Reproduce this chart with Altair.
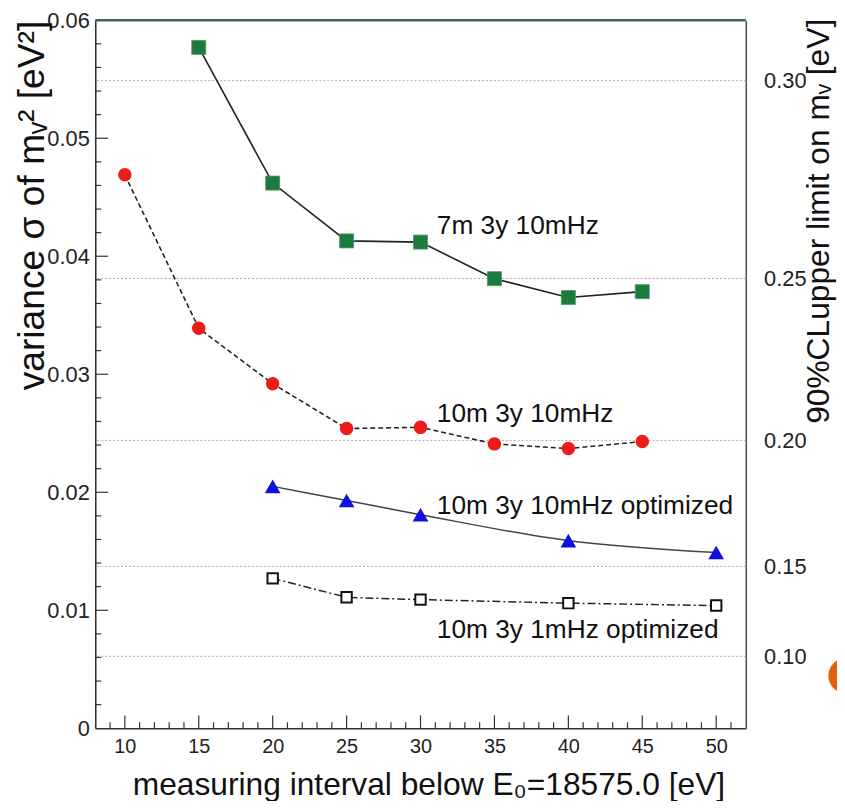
import altair as alt
import pandas as pd

# ---------------- data ----------------
x_green = [15, 20, 25, 30, 35, 40, 45]
y_green = [0.0577, 0.0462, 0.0413, 0.0412, 0.0381, 0.0365, 0.0370]

x_red = [10, 15, 20, 25, 30, 35, 40, 45]
y_red = [0.0469, 0.0339, 0.0292, 0.0254, 0.0255, 0.0241, 0.0237, 0.0243]

x_blue = [20, 25, 30, 40, 50]
y_blue = [0.0205, 0.0193, 0.0181, 0.0159, 0.0149]

x_open = [20, 25, 30, 40, 50]
y_open = [0.0127, 0.0111, 0.0109, 0.0106, 0.0104]

label_text = ["7m 3y 10mHz", "10m 3y 10mHz", "10m 3y 10mHz optimized", "10m 3y 1mHz optimized"]
label_x = [31.1, 31.1, 31.1, 31.1]
label_y = [0.0426, 0.0266, 0.0188, 0.0083]

x_tick_labels = [10, 15, 20, 25, 30, 35, 40, 45, 50]
y_tick_labels = [0, 0.01, 0.02, 0.03, 0.04, 0.05, 0.06]
limit_ticks = [0.10, 0.15, 0.20, 0.25, 0.30]

x_major = [10, 15, 20, 25, 30, 35, 40, 45, 50]
x_minor = [v for v in range(9, 52) if v % 5 != 0]
y_major = [0.01, 0.02, 0.03, 0.04, 0.05]
y_minor = [round(0.002 * i, 3) for i in range(1, 30) if i % 5 != 0]

# ---------------- styling ----------------
W, H = 656, 714
FONT = "Liberation Sans"
K = 1.64  # sigma = m^2 / K  (relation between the two vertical axes)

xs = alt.Scale(domain=[8, 52], nice=False, zero=False)
ys = alt.Scale(domain=[0, 0.06], nice=False, zero=True)
ys_right = alt.Scale(type="pow", exponent=2, domain=[0, (K * 0.06) ** 0.5], nice=False, zero=True)

x_axis = alt.Axis(
    orient="bottom", values=x_tick_labels, format="d", ticks=False, grid=False,
    domainColor="#333", domainWidth=1.6, labelFont=FONT, labelFontSize=20,
    labelColor="#222", labelPadding=8, labelFlush=False,
    title="measuring interval below E₀=18575.0 [eV]", titleFont=FONT,
    titleFontSize=32, titleFontWeight="normal", titleColor="#111",
    titleX=336, titleY=67, titleBaseline="alphabetic", titleAlign="center",
)
y_axis = alt.Axis(
    orient="left", values=y_tick_labels, ticks=False, grid=False,
    labelExpr="datum.value == 0 ? '0' : format(datum.value, '.2f')",
    domainColor="#333", domainWidth=1.6, labelFont=FONT, labelFontSize=22,
    labelColor="#222", labelPadding=6, labelFlush=False,
    title="variance σ of mᵥ² [eV²]", titleFont=FONT, titleFontSize=37.5,
    titleFontWeight="normal", titleColor="#111", titleAngle=270,
    titleAlign="right", titleBaseline="alphabetic", titleX=-52, titleY=0,
)
r_axis = alt.Axis(
    orient="right", values=limit_ticks, format=".2f", ticks=False, grid=False,
    domainColor="#555", domainWidth=1.6, labelFont=FONT, labelFontSize=22,
    labelColor="#222", labelPadding=18, labelFlush=False,
    title="90%CLupper limit on mᵥ [eV]", titleFont=FONT, titleFontSize=32,
    titleFontWeight="normal", titleColor="#111", titleAngle=270,
    titleAlign="right", titleBaseline="alphabetic", titleX=83, titleY=-2,
)


def X(f):
    return alt.X(f"{f}:Q", scale=xs, axis=x_axis)


def Y(f):
    return alt.Y(f"{f}:Q", scale=ys, axis=y_axis)


df_g = pd.DataFrame({"x": x_green, "y": y_green})
df_r = pd.DataFrame({"x": x_red, "y": y_red})
df_b = pd.DataFrame({"x": x_blue, "y": y_blue})
df_o = pd.DataFrame({"x": x_open, "y": y_open})
df_lab = pd.DataFrame({"x": label_x, "y": label_y, "t": label_text})
df_grid = pd.DataFrame({
    "limit": limit_ticks,
    "c": ["#d9a0a0" if abs(v - 0.2) < 1e-9 else "#a8a8a8" for v in limit_ticks],
})

grid = alt.Chart(df_grid).mark_rule(strokeWidth=1, strokeDash=[2, 2]).encode(
    y=alt.Y("limit:Q", scale=ys_right, axis=r_axis),
    color=alt.Color("c:N", scale=None),
)

line_g = alt.Chart(df_g).mark_line(color="#222", strokeWidth=1.6).encode(x=X("x"), y=Y("y"))
pts_g = alt.Chart(df_g).mark_point(shape="square", filled=True, size=200, color="#1d7a3e",
                                   stroke="#4a9a62", strokeWidth=0.8, opacity=1).encode(x=X("x"), y=Y("y"))

line_r = alt.Chart(df_r).mark_line(color="#222", strokeWidth=1.6, strokeDash=[5, 3]).encode(x=X("x"), y=Y("y"))
pts_r = alt.Chart(df_r).mark_point(shape="circle", filled=True, size=185, color="#ee1b1b",
                                   opacity=1).encode(x=X("x"), y=Y("y"))

line_b = alt.Chart(df_b).mark_line(color="#444", strokeWidth=1.5, interpolate="monotone").encode(x=X("x"), y=Y("y"))
pts_b = alt.Chart(df_b).mark_point(shape="triangle-up", filled=True, size=250, color="#1010e0",
                                   opacity=1).encode(x=X("x"), y=Y("y"))

line_o = alt.Chart(df_o).mark_line(color="#222", strokeWidth=1.5, strokeDash=[8, 3, 2, 3]).encode(x=X("x"), y=Y("y"))
pts_o = alt.Chart(df_o).mark_point(shape="square", filled=True, size=110, color="white",
                                   stroke="#111", strokeWidth=2, opacity=1).encode(x=X("x"), y=Y("y"))

labels = alt.Chart(df_lab).mark_text(font=FONT, fontSize=26.5, color="#111", align="left",
                                     baseline="middle").encode(x=X("x"), y=Y("y"), text="t:N")

# inward axis ticks
xt_major = alt.Chart(pd.DataFrame({"v": x_major})).mark_rule(color="#333", strokeWidth=1.2).encode(
    x=X("v"), y=alt.value(H), y2=alt.value(H - 13))
xt_minor = alt.Chart(pd.DataFrame({"v": x_minor})).mark_rule(color="#333", strokeWidth=1.2).encode(
    x=X("v"), y=alt.value(H), y2=alt.value(H - 6))
yt_major = alt.Chart(pd.DataFrame({"v": y_major})).mark_rule(color="#333", strokeWidth=1.2).encode(
    y=Y("v"), x=alt.value(0), x2=alt.value(13))
yt_minor = alt.Chart(pd.DataFrame({"v": y_minor})).mark_rule(color="#333", strokeWidth=1.2).encode(
    y=Y("v"), x=alt.value(0), x2=alt.value(6))

top_border = alt.Chart(pd.DataFrame({"a": [0]})).mark_rule(color="#3f6459", strokeWidth=2.5).encode(
    y=alt.value(0), x=alt.value(0), x2=alt.value(W))

deco = alt.Chart(pd.DataFrame({"a": [0]})).mark_circle(size=1257, color="#e0620e", opacity=1).encode(
    x=alt.value(757), y=alt.value(661))

main = alt.layer(
    xt_major, xt_minor, yt_major, yt_minor,
    line_g, line_r, line_b, line_o,
    pts_g, pts_r, pts_b, pts_o,
    labels, top_border, deco,
)

chart = alt.layer(grid, main).resolve_scale(y="independent").properties(
    width=W, height=H,
    autosize=alt.AutoSizeParams(type="none"),
    padding={"left": 88, "top": 9, "right": 92, "bottom": 70},
    background="white",
).configure_view(stroke=None)

chart.save("out.html", embed_options={"renderer": "svg", "actions": False})
